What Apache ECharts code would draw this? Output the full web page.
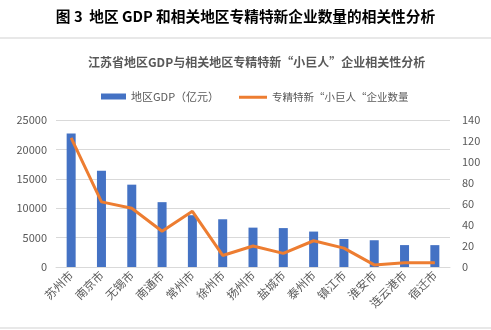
<!DOCTYPE html>
<html><head><meta charset="utf-8">
<script src="https://cdn.jsdelivr.net/npm/echarts@6/dist/echarts.min.js"></script>
<style>html,body{margin:0;padding:0;background:#fff}#c{width:491px;height:330px}</style>
</head><body><div id="c"></div>
<script>
const cities = ['苏州市','南京市','无锡市','南通市','常州市','徐州市','扬州市','盐城市','泰州市','镇江市','淮安市','连云港市','宿迁市'];
const gdp = [22718,16355,14003,11027,8808,8117,6696,6617,6025,4763,4550,3727,3719];
const firms = [123,62,56,34,53,11,20,13,25,18,2,4,4];
const leftTicks = [0,25000,5000];
const rightTicks = [0,140,20];
const font = '"Noto Sans CJK SC", sans-serif';
const chart = echarts.init(document.getElementById('c'));
chart.setOption({
  backgroundColor:'#fff',
  animation:false,
  textStyle:{fontFamily:font},
  title:[
    {text:'图 3  地区 GDP 和相关地区专精特新企业数量的相关性分析',left:'center',top:4,
     textStyle:{fontSize:14.7,fontWeight:'bold',color:'#000',fontFamily:font}},
    {text:'江苏省地区GDP与相关地区专精特新“小巨人”企业相关性分析',left:83,top:51,
     textStyle:{fontSize:12,fontWeight:'bold',color:'#595959',fontFamily:font}}
  ],
  graphic:[
    {type:'rect',shape:{x:0,y:37,width:491,height:2},style:{fill:'#e8e8e8'}},
    {type:'rect',shape:{x:0,y:327,width:491,height:2},style:{fill:'#e8e8e8'}}
  ],
  legend:[
    {top:86,left:96,itemWidth:25,itemHeight:6,itemGap:4,
     textStyle:{fontSize:11,color:'#595959',fontFamily:font},
     data:[{name:'地区GDP（亿元）',icon:'rect'}]},
    {top:87,left:234,itemWidth:28,itemHeight:3,itemGap:4,
     textStyle:{fontSize:10.5,color:'#595959',fontFamily:font},
     data:[{name:'专精特新“小巨人“企业数量',icon:'rect'}]}
  ],
  grid:{left:56,right:41,top:120,bottom:63},
  xAxis:{type:'category',data:cities,
    axisLine:{lineStyle:{color:'#d9d9d9'}},axisTick:{show:false},
    axisLabel:{rotate:45,interval:0,fontSize:11.5,color:'#595959',margin:6,fontFamily:font}},
  yAxis:[
    {type:'value',min:leftTicks[0],max:leftTicks[1],interval:leftTicks[2],
     axisLabel:{fontSize:11,color:'#595959',margin:9,formatter:v=>String(v)},
     axisLine:{show:false},axisTick:{show:false},
     splitLine:{lineStyle:{color:'#d9d9d9',width:1}}},
    {type:'value',min:rightTicks[0],max:rightTicks[1],interval:rightTicks[2],
     axisLabel:{fontSize:11,color:'#595959',margin:12},
     axisLine:{show:false},axisTick:{show:false},splitLine:{show:false}}
  ],
  series:[
    {name:'地区GDP（亿元）',type:'bar',data:gdp,barWidth:9,itemStyle:{color:'#4472C4'}},
    {name:'专精特新“小巨人“企业数量',type:'line',yAxisIndex:1,data:firms,
     showSymbol:false,symbol:'none',lineStyle:{color:'#ED7D31',width:3},itemStyle:{color:'#ED7D31'}}
  ]
});
</script></body></html>
